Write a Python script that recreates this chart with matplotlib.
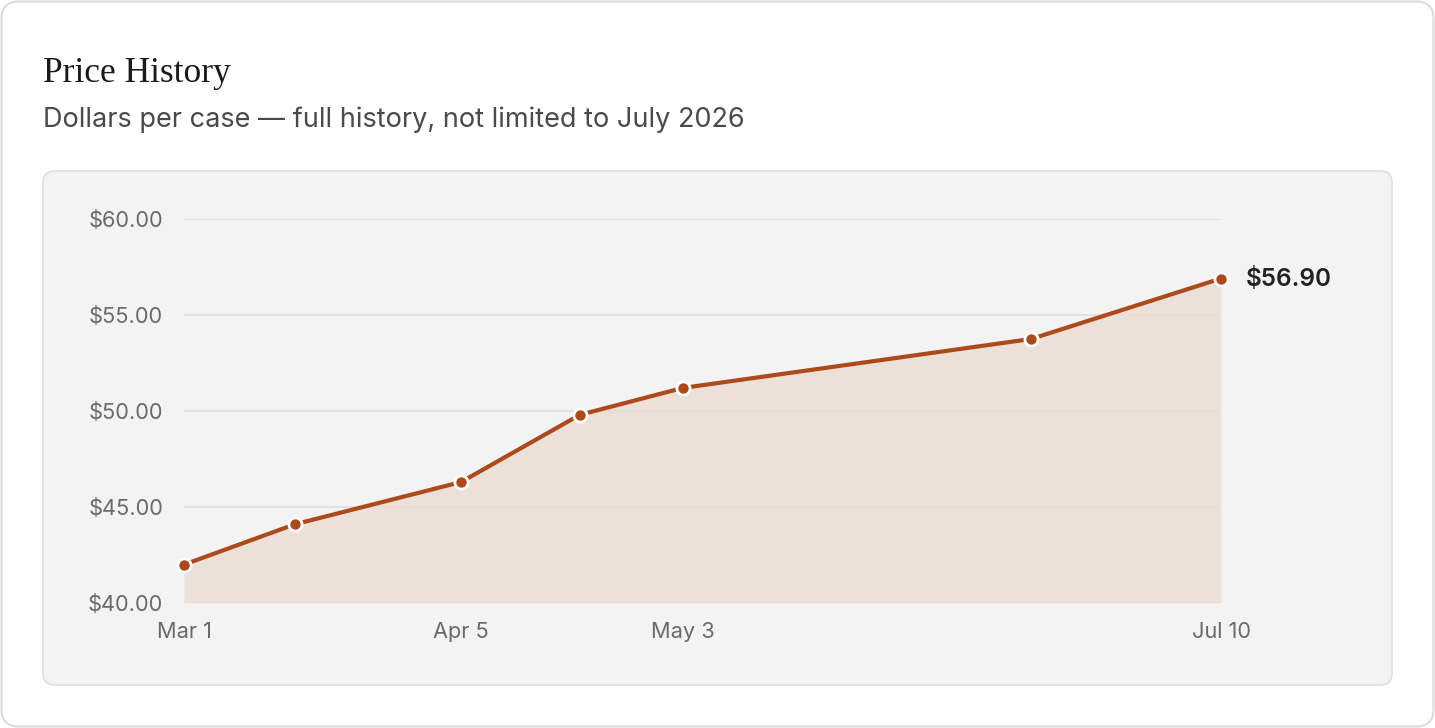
import matplotlib
matplotlib.use("Agg")
import matplotlib.pyplot as plt
import matplotlib.dates as mdates
from matplotlib.patches import FancyBboxPatch
from datetime import date

# ---- data ----
dates = [date(2026, 3, 1), date(2026, 3, 15), date(2026, 4, 5), date(2026, 4, 20),
         date(2026, 5, 3), date(2026, 6, 16), date(2026, 7, 10)]
prices = [42.00, 44.10, 46.30, 49.80, 51.20, 53.75, 56.90]
tick_dates = [date(2026, 3, 1), date(2026, 4, 5), date(2026, 5, 3), date(2026, 7, 10)]
tick_labels = ["Mar 1", "Apr 5", "May 3", "Jul 10"]
y_ticks = [40, 45, 50, 55, 60]
title = "Price History"
subtitle = "Dollars per case \u2014 full history, not limited to July 2026"
last_label = "$56.90"

LINE = "#ad4a1b"
W, H = 1435, 728
fig = plt.figure(figsize=(W / 100, H / 100), dpi=100)
fig.patch.set_facecolor("white")

def px(x, y):
    return x / W, 1 - y / H

# outer card
card = FancyBboxPatch((1.5 / W, 1.5 / H), (W - 3) / W, (H - 3) / H,
                      boxstyle="round,pad=0,rounding_size=0.012",
                      transform=fig.transFigure, facecolor="white",
                      edgecolor="#dcdcdc", linewidth=1.5, mutation_aspect=W / H,
                      zorder=-2)
fig.patches.append(card)
# inner panel
x0, y0, x1, y1 = 43, 171, 1392, 685
panel = FancyBboxPatch((x0 / W, 1 - y1 / H), (x1 - x0) / W, (y1 - y0) / H,
                       boxstyle="round,pad=0,rounding_size=0.008",
                       transform=fig.transFigure, facecolor="#f3f3f3",
                       edgecolor="#e0e0e0", linewidth=1.3, mutation_aspect=W / H,
                       zorder=-1)
fig.patches.append(panel)

fig.text(*px(43, 82), title, fontsize=25.5, family=["Liberation Serif", "DejaVu Serif"],
         color="#1a1a1a", ha="left", va="baseline")
fig.text(*px(43, 127), subtitle, fontsize=19.5, family=["Inter", "DejaVu Sans"],
         color="#4a4a4a", ha="left", va="baseline")

ax = fig.add_axes([184 / W, (H - 603) / H, (1221 - 184) / W, (603 - 219) / H])
ax.set_facecolor("none")
xd = mdates.date2num(dates)
ax.set_xlim(mdates.date2num(dates[0]), mdates.date2num(dates[-1]))
ax.set_ylim(40, 60)

for yt in y_ticks:
    ax.axhline(yt, color="#dedede", linewidth=1.3, zorder=1)

ax.fill_between(xd, prices, 40, color="#e9ddd3", alpha=0.8, linewidth=0, zorder=2)
ax.plot(xd, prices, color=LINE, linewidth=3, zorder=3, solid_capstyle="round")
ax.plot(xd, prices, "o", color=LINE, markersize=9.5, markeredgecolor="white",
        markeredgewidth=2, zorder=4, clip_on=False)

ax.annotate(last_label, (xd[-1], prices[-1]), xytext=(18, 0), textcoords="offset points",
            fontsize=17.5, fontweight="semibold", family=["Inter", "DejaVu Sans"],
            color="#222222", ha="left", va="center", annotation_clip=False)

ax.set_yticks(y_ticks)
ax.set_yticklabels([f"${v:.2f}" for v in y_ticks], family=["Inter", "DejaVu Sans"],
                   fontsize=15.7, color="#6a6a6a")
ax.set_xticks(mdates.date2num(tick_dates))
ax.set_xticklabels(tick_labels, family=["Inter", "DejaVu Sans"], fontsize=15.7,
                   color="#6a6a6a")
ax.tick_params(axis="y", length=0, pad=15)
ax.tick_params(axis="x", length=0, pad=14)
for s in ax.spines.values():
    s.set_visible(False)

fig.savefig("out.png", dpi=100, facecolor="white")
